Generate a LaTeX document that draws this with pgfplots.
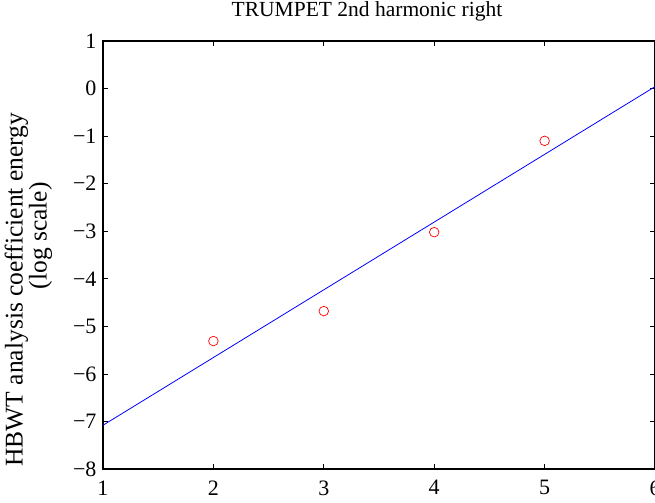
\documentclass[border=0pt]{standalone}
\usepackage{fontspec}
\setmainfont{Liberation Serif}
\usepackage{pgfplots}
\pgfplotsset{compat=1.18}
\begin{document}
\begin{tikzpicture}[font=\fontsize{22bp}{24bp}\selectfont]
\begin{axis}[
  scale only axis, width=552bp, height=428bp,
  xmin=1, xmax=6, ymin=-8, ymax=1,
  xtick={1,2,3,4,5,6}, ytick={-8,-7,-6,-5,-4,-3,-2,-1,0,1},
  xticklabels={1,2,3,4,5,6},
  yticklabels={−8,−7,−6,−5,−4,−3,−2,−1,0,1},
  tick align=inside, major tick length=5bp,
  axis line style={line width=1.5bp},
  every tick/.style={black, line width=0.7bp},
  xticklabel style={yshift=-8bp},
  yticklabel style={xshift=-3bp},
  title={TRUMPET 2nd harmonic right},
  title style={font=\fontsize{21.5bp}{24bp}\selectfont, at={(axis description cs:0.5,1)}, anchor=base, yshift=19bp, xshift=-12bp},
  ylabel={HBWT analysis coefficient energy\\\hspace*{108bp}(log scale)},
  every axis y label/.style={at={([xshift=-14bp]ticklabel cs:0.419)}, rotate=90, anchor=south, align=center,
    font=\fontsize{25.5bp}{24bp}\selectfont},
  clip=true,
]
% least-squares fit of the log energies
\addplot[blue, line width=0.8bp] coordinates {(1,-7.08) (6,0.04)};
% measured coefficient energies per harmonic index
\addplot[only marks, red, mark=o, mark size=4.8bp, line width=0.7bp] coordinates {
  (2,-5.31) (3,-4.68) (4,-3.02) (5,-1.10)
};
\coordinate (ll) at (rel axis cs:0,0);
\coordinate (ur) at (rel axis cs:1,1);
\end{axis}
\pgfresetboundingbox
\path[use as bounding box] ([shift={(-103bp,-34bp)}]ll) rectangle ([shift={(0bp,41bp)}]ur);
\end{tikzpicture}
\end{document}
